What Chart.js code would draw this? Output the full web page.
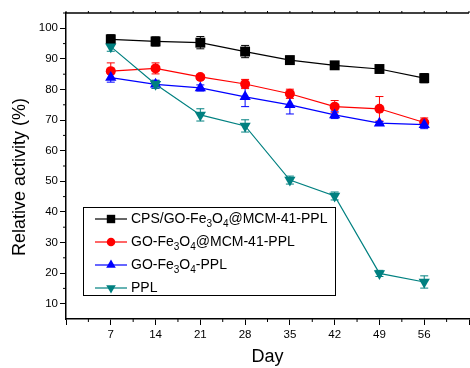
<!DOCTYPE html>
<html>
<head>
<meta charset="utf-8">
<script src="https://cdn.jsdelivr.net/npm/chart.js@4.4.0/dist/chart.umd.min.js"></script>
<style>
  html, body { margin: 0; padding: 0; background: #fff; overflow: hidden; }
  canvas { display: block; }
</style>
</head>
<body>
<canvas id="activityChart" width="476" height="368"></canvas>
<script>
// data
const days = [7, 14, 21, 28, 35, 42, 49, 56];
const cpsPPL = [96.4, 95.7, 95.3, 92.4, 89.6, 87.9, 86.7, 83.7];
const cpsErr = [1.5, 1.5, 2.0, 2.0, 1.3, 0.8, 1.2, 1.5];
const mcmPPL = [86.0, 86.9, 84.1, 81.8, 78.6, 74.4, 73.7, 69.2];
const mcmErr = [2.7, 1.8, 0.8, 1.5, 1.5, 2.0, 4.0, 1.5];
const goPPL = [83.9, 81.7, 80.5, 77.6, 75.0, 71.7, 69.0, 68.5];
const goErr = [1.5, 1.3, 1.0, 3.2, 3.0, 1.2, 0.5, 1.3];
const freePPL = [94.0, 81.7, 71.7, 68.1, 50.4, 45.2, 19.9, 17.1];
const freeErr = [1.5, 1.3, 2.0, 2.0, 1.3, 1.3, 1.0, 2.0];
const xTicks = [0, 7, 14, 21, 28, 35, 42, 49, 56, 63];
const yTicks = [10, 20, 30, 40, 50, 60, 70, 80, 90, 100];

const FONT = 'Liberation Sans, Arial, sans-serif';

function series(label, vals, errs, color, style, radius, rotation, order) {
  return {
    label: label,
    data: days.map((d, i) => ({ x: d, y: vals[i] })),
    errors: errs,
    borderColor: color,
    backgroundColor: color,
    borderWidth: 1.2,
    pointStyle: style,
    pointRadius: radius,
    pointRotation: rotation,
    pointBorderWidth: 0,
    pointHoverRadius: radius,
    order: order
  };
}

const datasets = [
  series('CPS/GO-Fe3O4@MCM-41-PPL', cpsPPL, cpsErr, '#000000', 'rect', 7, 0, 4),
  series('GO-Fe3O4@MCM-41-PPL', mcmPPL, mcmErr, '#ff0000', 'circle', 5, 0, 3),
  series('GO-Fe3O4-PPL', goPPL, goErr, '#0000ff', 'triangle', 6.5, 0, 2),
  series('PPL', freePPL, freeErr, '#008080', 'triangle', 6.5, 180, 1)
];

// legend entries: text pieces, s = subscript
const legendItems = [
  [['CPS/GO-Fe'], ['3', 's'], ['O'], ['4', 's'], ['@MCM-41-PPL']],
  [['GO-Fe'], ['3', 's'], ['O'], ['4', 's'], ['@MCM-41-PPL']],
  [['GO-Fe'], ['3', 's'], ['O'], ['4', 's'], ['-PPL']],
  [['PPL']]
];

function marker(ctx, style, x, y, r, rot) {
  ctx.beginPath();
  if (style === 'rect') {
    const s = r * Math.SQRT1_2;
    ctx.rect(x - s, y - s, 2 * s, 2 * s);
  } else if (style === 'circle') {
    ctx.arc(x, y, r, 0, Math.PI * 2);
  } else {
    const dir = rot === 180 ? -1 : 1;
    ctx.moveTo(x, y - dir * r);
    ctx.lineTo(x + r * 0.866, y + dir * r * 0.5);
    ctx.lineTo(x - r * 0.866, y + dir * r * 0.5);
    ctx.closePath();
  }
  ctx.fill();
}

const extras = {
  id: 'extras',
  beforeDatasetsDraw(chart) {
    const ctx = chart.ctx;
    const xs = chart.scales.x, ys = chart.scales.y;
    ctx.save();
    ctx.lineWidth = 1;
    chart.data.datasets.forEach(ds => {
      ctx.strokeStyle = ds.borderColor;
      ds.data.forEach((p, i) => {
        const px = xs.getPixelForValue(p.x);
        const top = ys.getPixelForValue(p.y + ds.errors[i]);
        const bot = ys.getPixelForValue(p.y - ds.errors[i]);
        ctx.beginPath();
        ctx.moveTo(px, top); ctx.lineTo(px, bot);
        ctx.moveTo(px - 4, top); ctx.lineTo(px + 4, top);
        ctx.moveTo(px - 4, bot); ctx.lineTo(px + 4, bot);
        ctx.stroke();
      });
    });
    ctx.restore();
  },
  afterDraw(chart) {
    const ctx = chart.ctx;
    const a = chart.chartArea;
    const xs = chart.scales.x, ys = chart.scales.y;
    ctx.save();
    ctx.strokeStyle = '#000';
    ctx.lineWidth = 1.5;
    // top frame line
    ctx.beginPath();
    ctx.moveTo(a.left, a.top); ctx.lineTo(a.right, a.top);
    ctx.stroke();
    ctx.lineWidth = 1;
    ctx.beginPath();
    // minor ticks
    for (let v = 3.5; v < 63; v += 7) {
      const px = xs.getPixelForValue(v);
      ctx.moveTo(px, a.bottom); ctx.lineTo(px, a.bottom + 3);
    }
    for (let v = 0; v <= 63; v += 3.5) {
      const px = xs.getPixelForValue(v);
      ctx.moveTo(px, a.top); ctx.lineTo(px, a.top - 2);
    }
    for (let v = 15; v <= 105; v += 10) {
      const py = ys.getPixelForValue(v);
      ctx.moveTo(a.left, py); ctx.lineTo(a.left - 3, py);
    }
    ctx.stroke();

    // y axis title (sits a little below the axis centre in the original)
    ctx.save();
    ctx.translate(20, 177);
    ctx.rotate(-Math.PI / 2);
    ctx.fillStyle = '#000';
    ctx.font = '18px ' + FONT;
    ctx.textAlign = 'center';
    ctx.textBaseline = 'middle';
    ctx.fillText('Relative activity (%)', 0, 0);
    ctx.restore();

    // legend box
    const bx = 83, by = 207, bw = 252, bh = 88;
    ctx.fillStyle = '#fff';
    ctx.fillRect(bx, by, bw, bh);
    ctx.strokeRect(bx + 0.5, by + 0.5, bw, bh);
    ctx.textBaseline = 'middle';
    legendItems.forEach((parts, i) => {
      const ds = chart.data.datasets[i];
      const y = 219 + i * 23;
      ctx.strokeStyle = ds.borderColor;
      ctx.fillStyle = ds.borderColor;
      ctx.lineWidth = 1.2;
      ctx.beginPath();
      ctx.moveTo(95, y); ctx.lineTo(127, y);
      ctx.stroke();
      marker(ctx, ds.pointStyle, 111, y, ds.pointRadius * 0.85, ds.pointRotation);
      let x = 131;
      ctx.fillStyle = '#000';
      parts.forEach(p => {
        const sub = p[1] === 's';
        ctx.font = (sub ? 10 : 14) + 'px ' + FONT;
        ctx.fillText(p[0], x, sub ? y + 5 : y);
        x += ctx.measureText(p[0]).width;
      });
    });
    ctx.restore();
  }
};

new Chart(document.getElementById('activityChart'), {
  type: 'line',
  data: { datasets: datasets },
  plugins: [extras],
  options: {
    responsive: false,
    animation: false,
    events: [],
    layout: { padding: { top: 13, left: 0, right: 0, bottom: 0 } },
    plugins: { legend: { display: false }, tooltip: { enabled: false } },
    scales: {
      x: {
        type: 'linear',
        min: 0,
        max: 63,
        afterBuildTicks: s => { s.ticks = xTicks.map(v => ({ value: v })); },
        afterFit: s => { s.height = 49; },
        ticks: {
          color: '#000',
          font: { family: FONT, size: 11.5 },
          padding: 3,
          maxRotation: 0,
          autoSkip: false,
          callback: v => (v === 0 || v === 63) ? '' : v
        },
        grid: { drawOnChartArea: false, drawTicks: true, tickLength: 6, color: '#000', lineWidth: 1 },
        border: { display: true, color: '#000', width: 1.5 },
        title: { display: true, text: 'Day', color: '#000', font: { family: FONT, size: 18 }, padding: { top: 0, bottom: 0 } }
      },
      y: {
        min: 5,
        max: 105,
        afterBuildTicks: s => { s.ticks = yTicks.map(v => ({ value: v })); },
        afterFit: s => { s.width = 66; },
        ticks: {
          color: '#000',
          font: { family: FONT, size: 11.5 },
          padding: 2,
          autoSkip: false
        },
        grid: { drawOnChartArea: false, drawTicks: true, tickLength: 6, color: '#000', lineWidth: 1 },
        border: { display: true, color: '#000', width: 1.5 }
      }
    }
  }
});
</script>
</body>
</html>
